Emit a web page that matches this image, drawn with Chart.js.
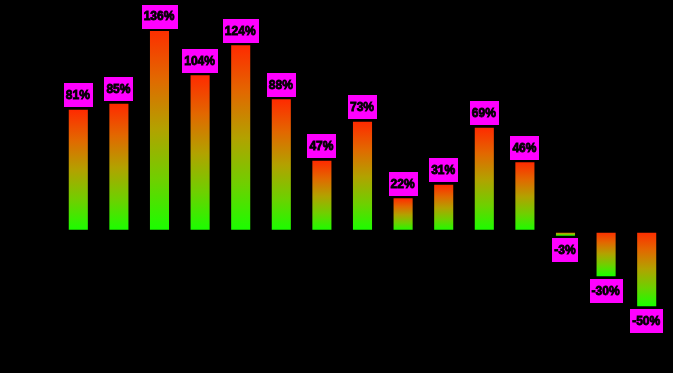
<!DOCTYPE html>
<html>
<head>
<meta charset="utf-8">
<script src="https://cdn.jsdelivr.net/npm/chart.js@4"></script>
<style>
  html, body { margin: 0; padding: 0; background: #000; }
  #wrap { width: 673px; height: 373px; }
</style>
</head>
<body>
<div id="wrap"><canvas id="c" width="673" height="373"></canvas></div>
<script>
const categories = ["1", "2", "3", "4", "5", "6", "7", "8", "9", "10", "11", "12", "13", "14", "15"];
const values = [81, 85, 136, 104, 124, 88, 47, 73, 22, 31, 69, 46, -3, -30, -50];
const yMin = -89.5;
const yMax = 133.5;

function barGradient(ctx) {
  const chart = ctx.chart;
  const yScale = chart.scales.y;
  if (!chart.chartArea || !yScale) return '#ff2a00';
  const v = values[ctx.dataIndex];
  const yTop = yScale.getPixelForValue(Math.max(v, 0));
  const yBot = yScale.getPixelForValue(Math.min(v, 0));
  const g = chart.ctx.createLinearGradient(0, yTop, 0, yBot === yTop ? yTop + 1 : yBot);
  g.addColorStop(0, '#ff2a00');
  g.addColorStop(0.25, '#e26800');
  g.addColorStop(0.5, '#b2a200');
  g.addColorStop(0.75, '#6ed000');
  g.addColorStop(1, '#18ff00');
  return g;
}

const labelPlugin = {
  id: 'valueLabels',
  afterDatasetsDraw(chart) {
    const ctx = chart.ctx;
    const area = chart.chartArea;
    const yScale = chart.scales.y;
    const zero = yScale.getPixelForValue(0);
    ctx.save();
    ctx.fillStyle = '#000';
    ctx.fillRect(area.left, zero - 1.5, area.right - area.left, 3);
    ctx.restore();

    const meta = chart.getDatasetMeta(0);
    ctx.save();
    ctx.font = 'bold 12px "Liberation Sans", Arial, sans-serif';
    ctx.textBaseline = 'middle';
    ctx.textAlign = 'center';
    meta.data.forEach((bar, i) => {
      const v = values[i];
      const text = v + '%';
      const w = ctx.measureText(text).width + 5;
      const h = 24;
      const yEnd = Math.min(Math.max(bar.y, area.top), area.bottom);
      const top = v >= 0 ? yEnd - 2.5 - h : yEnd + 2.5;
      const left = bar.x - w / 2;
      ctx.fillStyle = '#ff00ff';
      ctx.fillRect(Math.round(left), Math.round(top), Math.round(w), h);
      ctx.fillStyle = '#000';
      ctx.lineWidth = 0.8;
      ctx.strokeStyle = '#000';
      ctx.strokeText(text, bar.x - 0.5, top + h / 2 + 0.5);
      ctx.fillText(text, bar.x - 0.5, top + h / 2 + 0.5);
    });
    ctx.restore();
  }
};

new Chart(document.getElementById('c'), {
  type: 'bar',
  data: {
    labels: categories,
    datasets: [{
      data: values,
      backgroundColor: barGradient,
      borderWidth: 0,
      barPercentage: 0.47,
      categoryPercentage: 1.0
    }]
  },
  options: {
    responsive: false,
    animation: false,
    devicePixelRatio: 1,
    layout: { padding: { left: 58, right: 6, top: 31, bottom: 7.5 } },
    plugins: { legend: { display: false }, tooltip: { enabled: false } },
    scales: {
      x: { display: false, offset: true },
      y: { display: false, min: yMin, max: yMax }
    }
  },
  plugins: [labelPlugin]
});
</script>
</body>
</html>
